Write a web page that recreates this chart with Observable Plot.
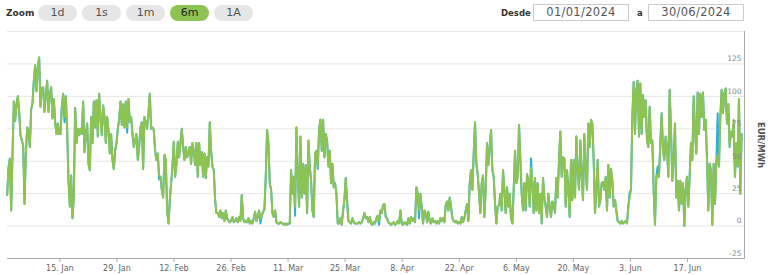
<!DOCTYPE html>
<html>
<head>
<meta charset="utf-8">
<script src="https://cdn.jsdelivr.net/npm/d3@7"></script>
<script src="https://cdn.jsdelivr.net/npm/@observablehq/plot@0.6"></script>
<style>
  body { margin: 0; background: #fff; font-family: "DejaVu Sans", sans-serif; }
  #wrap { position: relative; width: 768px; height: 275px; overflow: hidden; }
  #bar { position: relative; height: 26px; }
  .lbl { position: absolute; font-weight: bold; color: #333; top: 6px; line-height: 14px; }
  .btn { position: absolute; top: 5px; width: 39px; height: 16px; border-radius: 8px; background: #e6e6e6;
         color: #555; font-size: 11px; line-height: 16px; text-align: center; }
  .btn.sel { background: #8dc352; color: #222; }
  .inp { position: absolute; top: 4px; height: 17px; width: 96px; box-sizing: border-box; border: 1px solid #ccc;
         color: #555; font-size: 11.5px; line-height: 15px; text-align: center; letter-spacing: 0.3px; }
  svg { display: block; }
</style>
</head>
<body>
<div id="wrap">
  <div id="bar"></div>
  <div id="chart"></div>
</div>
<script>
// ---- Data -------------------------------------------------------------
const zoomButtons = ["1d", "1s", "1m", "6m", "1A"];
const selectedButton = "6m";
const dateFrom = "01/01/2024";
const dateTo = "30/06/2024";
const yLabel = "EUR/MWh";

// regular sampling of the drawn series
const seriesStart = Date.UTC(2024, 0, 2, 1, 45);
const stepMinutes = 471;

// price series (green)
const pricesJan = [24, 45, 52, 12, 55, 96, 81, 94, 100, 88, 70, 66, 62, 17, 55, 76, 73, 61, 90, 95, 112, 124, 104, 122,
  130, 92, 106, 107, 88, 101, 112, 88, 102, 107, 83, 98, 80, 71, 79, 71, 71, 92, 102, 84, 100, 74, 35, 15, 39, 6, 22, 91, 64,
  75, 70, 75, 71, 96, 57, 71, 79, 48, 43, 84, 64, 96, 76, 97, 69, 102, 84, 70, 93, 84, 64, 84, 74, 56, 71, 51, 44, 58, 64,
  75, 82, 96, 78, 94, 76, 96, 76, 98, 80, 84, 71, 61, 66, 71, 51, 61, 76, 80, 44, 84, 80, 75, 87, 102, 75, 76, 74, 58, 51];
const pricesFeb = [56, 39, 38, 28, 22, 55, 51, 12, 2, 20, 33, 46, 65, 38, 48, 65, 53, 64, 75, 61, 51, 61, 53, 57, 61, 48,
  64, 58, 47, 64, 38, 64, 47, 57, 38, 56, 37, 53, 46, 80, 58, 46, 43, 20, 10, 10, 7, 12, 6, 10, 4, 12, 6, 4, 3, 4, 7, 3, 4,
  6, 3, 7, 4, 24, 6, 3, 4, 3, 6, 2, 4, 2, 6, 11, 4, 7, 12, 6, 8, 11, 13];
const pricesMar = [38, 74, 64, 33, 28, 10, 7, 12, 3, 2, 2, 3, 2, 2, 1, 2, 1, 2, 2, 43, 25, 38, 15, 76, 38, 15, 69, 22, 48,
  25, 47, 10, 66, 46, 35, 12, 7, 56, 58, 46, 74, 82, 58, 82, 53, 71, 66, 46, 58, 33, 48, 30, 33, 25, 2, 2, 6, 1, 12, 20, 37,
  20, 4, 3, 2, 6, 3, 2, 2, 2, 3, 2, 3, 6, 10, 6, 7, 3, 7, 2, 1, 3, 2, 6, 8, 4, 12, 10, 16, 17];
const pricesApr = [7, 6, 3, 2, 1, 2, 3, 1, 2, 4, 2, 12, 2, 1, 3, 2, 1, 6, 2, 7, 4, 6, 3, 30, 25, 12, 25, 15, 2, 12, 10, 3,
  11, 4, 2, 6, 3, 4, 2, 4, 2, 6, 4, 6, 3, 16, 19, 12, 22, 15, 6, 4, 3, 4, 2, 3, 2, 7, 3, 6, 12, 17, 4, 33, 43, 28, 56, 80,
  48, 40, 25, 10, 33, 39, 7, 28, 64, 47, 61, 74, 43, 38, 17, 2, 15, 16, 25, 12, 43, 28, 10, 30, 15, 25, 6, 2];
const pricesMay = [28, 58, 33, 38, 78, 51, 25, 12, 33, 12, 40, 35, 15, 45, 33, 10, 37, 12, 33, 10, 25, 2, 37, 22, 15, 7,
  25, 15, 7, 19, 17, 10, 37, 22, 51, 73, 38, 53, 52, 15, 43, 28, 7, 51, 20, 51, 22, 69, 42, 28, 66, 38, 20, 71, 43, 28, 79,
  61, 82, 79, 51, 10, 28, 51, 15, 20, 33, 34, 28, 38, 12, 47, 22, 44, 35, 15, 20, 12, 4, 3, 2, 4, 2, 3, 4, 2];
const pricesJun = [15, 22, 28, 84, 111, 71, 105, 112, 69, 110, 71, 101, 84, 97, 66, 61, 92, 64, 66, 28, 1, 38, 40, 38, 64,
  87, 58, 51, 69, 61, 38, 105, 74, 35, 51, 79, 22, 35, 12, 35, 17, 33, 0, 28, 38, 15, 38, 64, 51, 100, 74, 56, 103, 71,
  102, 84, 103, 74, 82, 53, 12, 48, 43, 1, 48, 17, 48, 55, 46, 84, 105, 87, 102, 106, 79, 94, 61, 73, 69, 82, 38, 64, 46,
  98, 25, 71];

// second series (blue), equal to the first except where it shows through
const blueIndex = [43, 90, 114, 190, 216, 233, 279, 309, 393, 467, 488, 533, 545];
const blueValue = [80, 72, 36, 2, 8, 44, 1, 6, 52, 26, 46, 87, 78];

// axes
const tickDates = ["2024-01-15", "2024-01-29", "2024-02-12", "2024-02-26", "2024-03-11", "2024-03-25",
  "2024-04-08", "2024-04-22", "2024-05-06", "2024-05-20", "2024-06-03", "2024-06-17"];
const tickLabels = ["15. Jan", "29. Jan", "12. Feb", "26. Feb", "11. Mar", "25. Mar",
  "8. Apr", "22. Apr", "6. May", "20. May", "3. Jun", "17. Jun"];
const yGrid = [-25, 0, 25, 50, 75, 100, 125, 150];
const yTickLabels = [-25, 0, 25, 50, 75, 100, 125];

// ---- Controls ---------------------------------------------------------
const bar = document.getElementById("bar");
function add(cls, text, left, extra) {
  const el = document.createElement("div");
  el.className = cls;
  el.textContent = text;
  el.style.left = left + "px";
  if (extra) Object.assign(el.style, extra);
  bar.appendChild(el);
  return el;
}
add("lbl", "Zoom", 6, {fontSize: "9px"});
zoomButtons.forEach((b, i) => add("btn" + (b === selectedButton ? " sel" : ""), b, 38 + i * 44));
add("lbl", "Desde", 501, {fontSize: "8.5px"});
add("inp", dateFrom, 533);
add("lbl", "a", 637, {fontSize: "8.5px"});
add("inp", dateTo, 648);

// ---- Chart ------------------------------------------------------------
const prices = [...pricesJan, ...pricesFeb, ...pricesMar, ...pricesApr, ...pricesMay, ...pricesJun];
const green = prices.map((v, i) => ({date: new Date(seriesStart + i * stepMinutes * 60000), value: v}));
const blueVals = prices.slice();
blueIndex.forEach((idx, k) => { blueVals[idx] = blueValue[k]; });
const blue = blueVals.map((v, i) => ({date: new Date(seriesStart + i * stepMinutes * 60000), value: v}));

const ticks = tickDates.map(s => new Date(s));
const labelByTime = new Map(ticks.map((d, i) => [+d, tickLabels[i]]));

const chart = Plot.plot({
  width: 768,
  height: 249,
  marginTop: 5,
  marginBottom: 17,
  marginLeft: 7,
  marginRight: 24,
  style: {fontFamily: "DejaVu Sans, sans-serif", fontSize: "8px", background: "transparent", overflow: "visible"},
  x: {type: "utc", domain: [new Date(Date.UTC(2024, 0, 1)), new Date(Date.UTC(2024, 6, 1))], range: [2.3, 744]},
  y: {domain: [-25, 150], axis: null},
  marks: [
    Plot.ruleY(yGrid, {stroke: "#e6e6e6", strokeWidth: 1}),
    Plot.ruleY([-25], {stroke: "#aaa", strokeWidth: 1}),
    Plot.frame({anchor: "right", stroke: "#aaa"}),
    Plot.axisX(ticks, {tickSize: 4, tickPadding: 3, tickFormat: d => labelByTime.get(+d),
      stroke: "#aaa", fill: "#666", label: null, fontSize: 8}),
    Plot.lineY(blue, {x: "date", y: "value", stroke: "#2bb0dc", strokeWidth: 2}),
    Plot.lineY(green, {x: "date", y: "value", stroke: "#8dc352", strokeWidth: 2}),
    Plot.text(yTickLabels, {frameAnchor: "right", y: d => d, text: d => String(d), textAnchor: "end",
      dx: -3, dy: -5, fill: "#888", fontSize: 7.5}),
    Plot.text([yLabel], {frameAnchor: "right", dx: 16, rotate: 90, textAnchor: "middle",
      fontWeight: "bold", fontSize: 8.5, fill: "#555"})
  ]
});
document.getElementById("chart").appendChild(chart);
</script>
</body>
</html>
